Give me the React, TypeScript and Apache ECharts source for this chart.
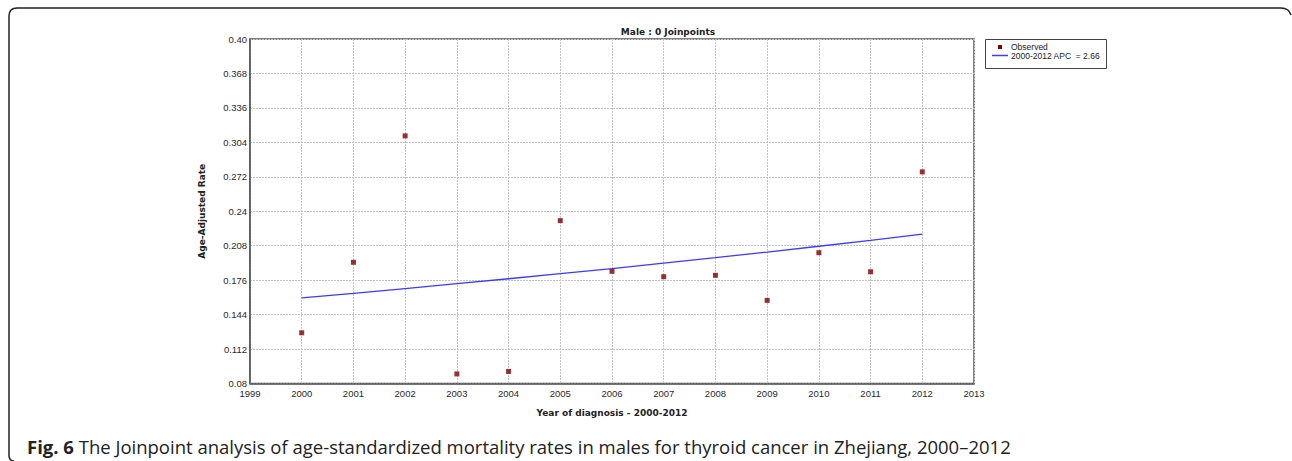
import React, { useEffect, useRef } from "react";
import * as echarts from "echarts";

const years = [2000, 2001, 2002, 2003, 2004, 2005, 2006, 2007, 2008, 2009, 2010, 2011, 2012];
const observed = [0.1271, 0.1926, 0.310, 0.0889, 0.0912, 0.2313, 0.1842, 0.1792, 0.1805, 0.1572, 0.2015, 0.1838, 0.2766];
const fitted = [0.1596, 0.1638, 0.1682, 0.1727, 0.1773, 0.1820, 0.1868, 0.1918, 0.1969, 0.2021, 0.2075, 0.2130, 0.2187];
const chartTitle = "Male : 0 Joinpoints";
const xName = "Year of diagnosis - 2000-2012";
const yName = "Age-Adjusted Rate";
const observedName = "Observed";
const fittedName = "2000-2012 APC  = 2.66";
const captionBold = "Fig. 6";
const captionRest = " The Joinpoint analysis of age-standardized mortality rates in males for thyroid cancer in Zhejiang, 2000\u20132012";

echarts.graphic.registerShape(
  "frame",
  echarts.graphic.extendPath("M1291 15 Q1289 8 1281 8 L17 8 Q9 8 9 16 L9 455 Q9 461 14 461", {})
);

function fmtY(v: number): string {
  let s = String(parseFloat(v.toFixed(3)));
  const dec = s.indexOf(".") >= 0 ? s.split(".")[1].length : 0;
  if (dec === 1) s += "0";
  return s;
}

export default function App() {
  const ref = useRef<HTMLDivElement>(null);
  useEffect(() => {
    document.body.style.margin = "0";
    document.body.style.overflow = "hidden";
    const chart = echarts.init(ref.current!, null, { renderer: "svg" });
    const axisFont = "Liberation Sans, Arial, sans-serif";
    chart.setOption({
      animation: false,
      backgroundColor: "#ffffff",
      title: {
        text: chartTitle,
        left: 663,
        top: 22,
        textAlign: "center",
        textStyle: { fontFamily: "DejaVu Sans", fontWeight: "bold", fontSize: 9, color: "#222" },
      },
      grid: {
        left: 250,
        right: 318,
        top: 39,
        bottom: 77.5,
        show: true,
        borderColor: "#555",
        borderWidth: 1.5,
        backgroundColor: "transparent",
      },
      xAxis: {
        type: "value",
        min: 1999,
        max: 2013,
        interval: 1,
        name: xName,
        nameLocation: "middle",
        nameGap: 25,
        nameTextStyle: { fontFamily: "DejaVu Sans", fontWeight: "bold", fontSize: 9, color: "#222" },
        axisLine: { show: true, lineStyle: { color: "#555", width: 1.5 } },
        axisTick: { show: false },
        axisLabel: { fontFamily: axisFont, fontSize: 9.5, color: "#2a2a2a", margin: 5, formatter: (v: number) => String(v) },
        splitLine: { show: true, lineStyle: { color: "#c4c4c4", type: [2, 1], width: 1 } },
      },
      yAxis: {
        type: "value",
        min: 0.08,
        max: 0.4,
        interval: 0.032,
        name: yName,
        nameLocation: "middle",
        nameGap: 44,
        nameTextStyle: { fontFamily: "DejaVu Sans", fontWeight: "bold", fontSize: 9, color: "#222" },
        axisLine: { show: true, lineStyle: { color: "#555", width: 1.5 } },
        axisTick: { show: false },
        axisLabel: { fontFamily: axisFont, fontSize: 9.5, color: "#2a2a2a", margin: 3, formatter: (v: number) => fmtY(v) },
        splitLine: { show: true, lineStyle: { color: "#c4c4c4", type: [2, 1], width: 1 } },
      },
      series: [
        {
          name: fittedName,
          type: "line",
          data: years.map((y, i) => [y, fitted[i]]),
          showSymbol: false,
          symbol: "none",
          lineStyle: { color: "#3b3bff", width: 1.3 },
          z: 2,
        },
        {
          name: observedName,
          type: "scatter",
          data: years.map((y, i) => [y, observed[i]]),
          symbol: "rect",
          symbolSize: 5,
          itemStyle: { color: "#800000" },
          z: 3,
        },
      ],
      graphic: [
        {
          type: "frame",
          x: 0,
          y: 0,
          style: { fill: "none", stroke: "#222", lineWidth: 1.5 },
          silent: true,
        },
        {
          type: "rect",
          shape: { x: 985.5, y: 39.5, width: 121, height: 29 },
          style: { fill: "#fff", stroke: "#444", lineWidth: 1 },
        },
        {
          type: "rect",
          shape: { x: 998, y: 45, width: 4, height: 4 },
          style: { fill: "#800000" },
        },
        {
          type: "line",
          shape: { x1: 992, y1: 55.5, x2: 1008, y2: 55.5 },
          style: { stroke: "#3b3bff", lineWidth: 1.5 },
        },
        {
          type: "text",
          x: 1011,
          y: 47,
          style: { text: observedName, font: "8.5px Liberation Sans, Arial, sans-serif", fill: "#222", verticalAlign: "middle" },
        },
        {
          type: "text",
          x: 1011,
          y: 56,
          style: { text: fittedName, font: "8.5px Liberation Sans, Arial, sans-serif", fill: "#222", verticalAlign: "middle" },
        },
        {
          type: "text",
          x: 27,
          y: 446,
          style: {
            text: "{b|" + captionBold + "}{r|" + captionRest + "}",
            verticalAlign: "middle",
            rich: {
              b: { fontFamily: "Open Sans", fontWeight: "bold", fontSize: 18.5, fill: "#222" },
              r: { fontFamily: "Open Sans", fontSize: 18.5, fill: "#222" },
            },
          },
        },
      ],
    });
    return () => chart.dispose();
  }, []);
  return <div ref={ref} style={{ width: 1292, height: 461 }} />;
}
